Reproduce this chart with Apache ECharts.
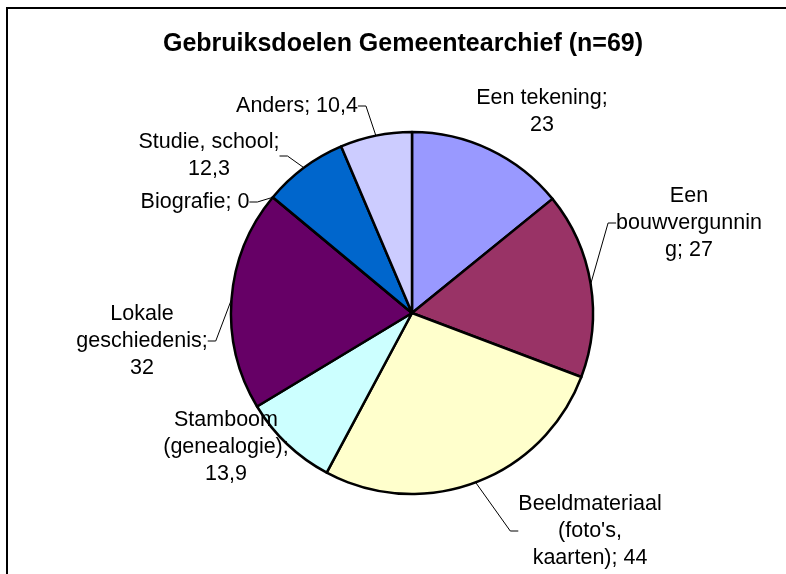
<!DOCTYPE html>
<html>
<head>
<meta charset="utf-8">
<script src="https://cdn.jsdelivr.net/npm/echarts@6/dist/echarts.min.js"></script>
<style>
  html, body { margin: 0; padding: 0; background: #fff; }
  #wrap { position: relative; width: 786px; height: 574px; overflow: hidden; }
  #frame { position: absolute; left: 6px; top: 7px; width: 900px; height: 700px;
           border-left: 2px solid #000; border-top: 2px solid #000; }
  #chart { position: absolute; left: 0; top: 0; width: 786px; height: 574px; }
</style>
</head>
<body>
<div id="wrap">
  <div id="frame"></div>
  <div id="chart"></div>
</div>
<script>
// categories, in the order the slices are drawn (clockwise from 12 o'clock)
var categories = ['Een tekening', 'Een bouwvergunning', 'Beeldmateriaal (foto\'s, kaarten)',
  'Stamboom (genealogie)', 'Lokale geschiedenis', 'Biografie', 'Studie, school', 'Anders'];
var values = [23, 27, 44, 13.9, 32, 0, 12.3, 10.4];
var colors = ['#9999FF', '#993366', '#FFFFCC', '#CCFFFF', '#660066', '#FF8080', '#0066CC', '#CCCCFF'];
// label text as wrapped in the original
var labelTexts = ['Een tekening;\n23', 'Een\nbouwvergunnin\ng; 27', 'Beeldmateriaal\n(foto\'s,\nkaarten); 44',
  'Stamboom\n(genealogie);\n13,9', 'Lokale\ngeschiedenis;\n32', 'Biografie; 0', 'Studie, school;\n12,3', 'Anders; 10,4'];
var showLine = [false, true, true, false, true, true, true, true];

// where each label block sits (centre of text block)
var labelPos = [[542, 112], [689, 223], [590, 531], [226, 447], [142, 341], [195, 202], [209, 156], [297, 106]];

var font = '"Liberation Sans", Arial, sans-serif';

var myChart = echarts.init(document.getElementById('chart'));
var option = {
  animation: false,
  backgroundColor: 'transparent',
  title: {
    text: 'Gebruiksdoelen Gemeentearchief (n=69)',
    left: 398,
    textAlign: 'center',
    top: 27,
    textStyle: { fontFamily: font, fontSize: 25, fontWeight: 'bold', color: '#000' }
  },
  series: [{
    type: 'pie',
    center: [412, 313],
    radius: 181,
    startAngle: 90,
    clockwise: true,
    avoidLabelOverlap: false,
    emphasis: { disabled: true },
    itemStyle: { borderColor: '#000', borderWidth: 2.5 },
    label: {
      show: true,
      position: 'outside',
      color: '#000',
      fontFamily: font,
      fontSize: 21.5,
      lineHeight: 27,
      align: 'center',
      formatter: function (p) { return labelTexts[p.dataIndex]; }
    },
    labelLine: { show: true, length: 8, length2: 8, lineStyle: { color: '#000', width: 1 } },
    labelLayout: function (p) {
      var pos = labelPos[p.dataIndex];
      return { x: pos[0], y: pos[1], align: 'center', verticalAlign: 'middle' };
    },
    data: values.map(function (v, i) {
      return {
        name: categories[i],
        value: v,
        itemStyle: { color: colors[i] },
        labelLine: { show: showLine[i] }
      };
    })
  }]
};
myChart.setOption(option);
</script>
</body>
</html>
